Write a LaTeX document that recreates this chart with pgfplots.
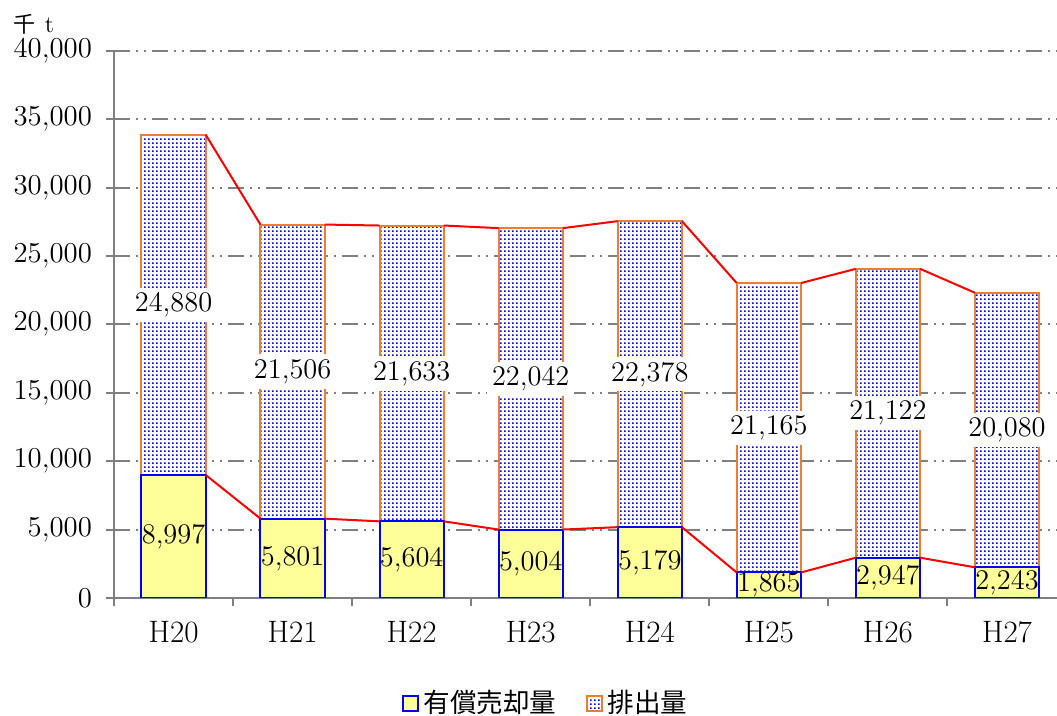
\documentclass[border=0pt]{standalone}
\usepackage{fontspec}
\usepackage{pgfplots}
\pgfplotsset{compat=1.18}
\usetikzlibrary{patterns}
\newfontfamily\cjk{Noto Sans CJK JP}
\definecolor{byellow}{RGB}{255,255,153}
\definecolor{borange}{RGB}{237,125,49}
\definecolor{gridgray}{RGB}{128,128,128}
\pgfdeclarepatternformonly{bluedots}{\pgfpointorigin}{\pgfpoint{1.8pt}{1.8pt}}{\pgfpoint{1.8pt}{1.8pt}}{\pgfpathrectangle{\pgfpointorigin}{\pgfpoint{0.92pt}{0.92pt}}\pgfusepath{fill}}
\pgfplotsset{
  common/.style={
    at={(57pt,59pt)}, anchor=south west,
    scale only axis, width=471.5pt, height=273.5pt,
    xmin=-0.5, xmax=7.42, ymin=0, ymax=40000,
  },
  sqlegend/.style={legend image code/.code={\draw[##1] (0pt,-3.8pt) rectangle (7.5pt,3.7pt);}},
}
\begin{document}
\begin{tikzpicture}
\useasboundingbox (0,0) rectangle (528.5pt,358pt);
\begin{axis}[
  common,
  ybar stacked, bar width=0.54,
  axis x line*=bottom, axis y line*=left,
  axis line style={gridgray, line width=1pt},
  xtick={-0.5,0.5,...,6.5},
  xticklabels={H20,H21,H22,H23,H24,H25,H26,H27},
  xticklabel style={xshift=29.77pt, yshift=-4pt},
  ytick={0,5000,...,40000},
  scaled y ticks=false,
  yticklabel style={xshift=-3.5pt},
  tick label style={font=\fontsize{15.5}{17}\selectfont},
  tick style={gridgray, line width=1pt},
  tick align=outside, major tick length=4pt,
  ymajorgrids,
  grid style={gridgray, line width=1pt, dash pattern=on 8pt off 3pt on 1pt off 3pt on 1pt off 3pt},
  legend style={at={(0.459,-0.192)}, anchor=center, draw=none, fill=none,
    font=\cjk\fontsize{13.3}{15}\selectfont,
    /tikz/every even column/.append style={column sep=13pt}},
  legend columns=2,
]
\addplot[fill=byellow, draw=blue, line width=1pt, sqlegend]
  coordinates {(0,8997) (1,5801) (2,5604) (3,5004) (4,5179) (5,1865) (6,2947) (7,2243)};
\addlegendentry{有償売却量}
\addplot[draw=borange, line width=1pt, preaction={fill=white}, pattern=bluedots, pattern color=blue, sqlegend]
  coordinates {(0,24880) (1,21506) (2,21633) (3,22042) (4,22378) (5,21165) (6,21122) (7,20080)};
\addlegendentry{排出量}
\end{axis}
\begin{axis}[common, hide axis, clip=false]
\addplot[red, line width=1pt, mark=none, unbounded coords=jump] table {
x y
0.27 8997
0.73 5801
1 nan
1.27 5801
1.73 5604
2 nan
2.27 5604
2.73 5004
3 nan
3.27 5004
3.73 5179
4 nan
4.27 5179
4.73 1865
5 nan
5.27 1865
5.73 2947
6 nan
6.27 2947
6.73 2243
};
\addplot[red, line width=1pt, mark=none, unbounded coords=jump] table {
x y
0.27 33877
0.73 27307
1 nan
1.27 27307
1.73 27237
2 nan
2.27 27237
2.73 27046
3 nan
3.27 27046
3.73 27557
4 nan
4.27 27557
4.73 23030
5 nan
5.27 23030
5.73 24069
6 nan
6.27 24069
6.73 22323
};
\addplot[draw=none, mark=none, nodes near coords, point meta=explicit symbolic,
  every node near coord/.append style={anchor=center, font=\fontsize{14.2}{16}\selectfont, inner sep=1.5pt}]
  table[meta=lab] {
x y lab
0 4498.5 8,997
1 2900.5 5,801
2 2802 5,604
3 2502 5,004
4 2589.5 5,179
5 932.5 1,865
6 1473.5 2,947
7 1121.5 2,243
};
\addplot[draw=none, mark=none, nodes near coords, point meta=explicit symbolic,
  every node near coord/.append style={anchor=center, fill=white, font=\fontsize{14.2}{16}\selectfont, inner xsep=2.5pt, inner ysep=2.5pt}]
  table[meta=lab] {
x y lab
0 21437 24,880
1 16554 21,506
2 16420.5 21,633
3 16025 22,042
4 16368 22,378
5 12447.5 21,165
6 13508 21,122
7 12283 20,080
};
\end{axis}
\node at (17pt,346pt) {{\cjk\fontsize{11}{12}\selectfont 千}\hspace{4.5pt}{\fontsize{12}{13}\selectfont t}};
\end{tikzpicture}
\end{document}
